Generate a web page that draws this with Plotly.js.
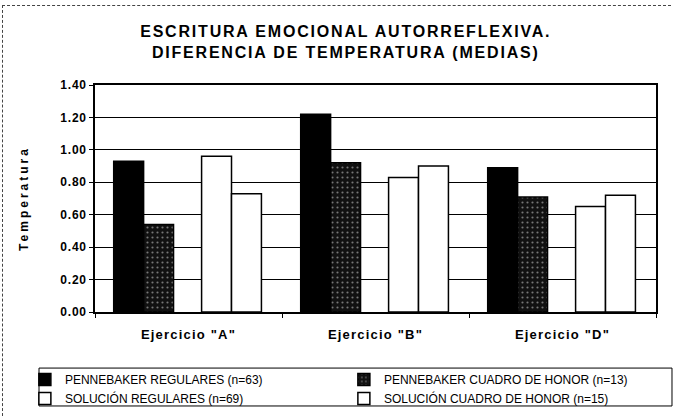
<!DOCTYPE html>
<html>
<head>
<meta charset="utf-8">
<script src="https://cdn.plot.ly/plotly-3.0.1.min.js"></script>
<style>
  body { margin: 0; background: #fff; }
  #chart { width: 674px; height: 416px; }
  #frame { position: absolute; left: 2px; top: 5px; width: 668px; height: 420px;
           border-left: 1px dashed #444; border-top: 1px dashed #444; pointer-events: none; }
  /* the scanned chart uses widely spaced letters */
  #chart .gtitle { letter-spacing: 1.8px; }
  #chart .xtick text { letter-spacing: 1.2px; }
  #chart .ytick text { letter-spacing: 0.8px; }
  #chart .ytitle { letter-spacing: 3px; }
</style>
</head>
<body>
<div id="chart"></div>
<div id="frame"></div>
<script>
var categories = ['Ejercicio "A"', 'Ejercicio "B"', 'Ejercicio "D"'];
var pennebakerRegulares = [0.93, 1.22, 0.89];
var pennebakerHonor = [0.54, 0.92, 0.71];
var solucionRegulares = [0.96, 0.83, 0.65];
var solucionHonor = [0.73, 0.90, 0.72];

var outline = {color: '#000', width: 1.5};

var trace1 = {
  type: 'bar', x: categories, y: pennebakerRegulares,
  name: 'PENNEBAKER REGULARES (n=63)',
  offset: -0.40, width: 0.16,
  marker: {color: '#000', line: outline}
};
var trace2 = {
  type: 'bar', x: categories, y: pennebakerHonor,
  name: 'PENNEBAKER CUADRO DE HONOR (n=13)',
  offset: -0.24, width: 0.16,
  marker: {color: '#111', line: outline,
           pattern: {shape: '.', fgcolor: '#777', bgcolor: '#111', size: 5, solidity: 0.15}}
};
var trace3 = {
  type: 'bar', x: categories, y: solucionRegulares,
  name: 'SOLUCIÓN REGULARES (n=69)',
  offset: 0.07, width: 0.16,
  marker: {color: '#fff', line: outline}
};
var trace4 = {
  type: 'bar', x: categories, y: solucionHonor,
  name: 'SOLUCIÓN CUADRO DE HONOR (n=15)',
  offset: 0.23, width: 0.16,
  marker: {color: '#fff', line: outline}
};

var data = [trace1, trace2, trace3, trace4];
var layout = {
  width: 674, height: 416,
  margin: {l: 95, r: 18, t: 85, b: 104, autoexpand: false},
  paper_bgcolor: '#fff', plot_bgcolor: '#fff',
  font: {family: 'Liberation Sans, Arial, sans-serif', color: '#000'},
  title: {
    text: '<b>ESCRITURA EMOCIONAL AUTORREFLEXIVA.<br>DIFERENCIA DE TEMPERATURA (MEDIAS)</b>',
    font: {size: 16, color: '#000'},
    x: 0.513, xref: 'container', y: 0.911, yref: 'container', yanchor: 'middle'
  },
  barmode: 'overlay',
  showlegend: true,
  xaxis: {
    type: 'category',
    tickson: 'boundaries', ticks: 'outside', ticklen: 4, tickcolor: '#000',
    tickfont: {size: 13}, ticklabelstandoff: 10,
    tickprefix: '<b>', ticksuffix: '</b>',
    showline: true, linecolor: '#000', linewidth: 1.5, mirror: true,
    showgrid: false
  },
  yaxis: {
    title: {text: '<b>Temperatura</b>', font: {size: 12}, standoff: 32},
    range: [0, 1.4], dtick: 0.2, tickformat: '.2f',
    tickfont: {size: 12},
    tickprefix: '<b>', ticksuffix: '</b>',
    ticks: 'outside', ticklen: 4, tickcolor: '#000',
    showline: true, linecolor: '#000', linewidth: 1.5, mirror: true,
    showgrid: true, gridcolor: '#000', gridwidth: 1,
    zeroline: false
  },
  legend: {
    orientation: 'h', x: -0.125, xanchor: 'left', y: -0.233, yanchor: 'top',
    entrywidth: 274, entrywidthmode: 'pixels',
    font: {size: 12}, borderwidth: 0, bgcolor: 'rgba(0,0,0,0)',
    itemwidth: 30
  },
  shapes: [{
    type: 'rect', xref: 'paper', yref: 'paper',
    x0: -0.0998, x1: 1.0285, y0: -0.414, y1: -0.247,
    line: {color: '#000', width: 1}
  }]
};

Plotly.newPlot('chart', data, layout, {displayModeBar: false});
</script>
</body>
</html>
